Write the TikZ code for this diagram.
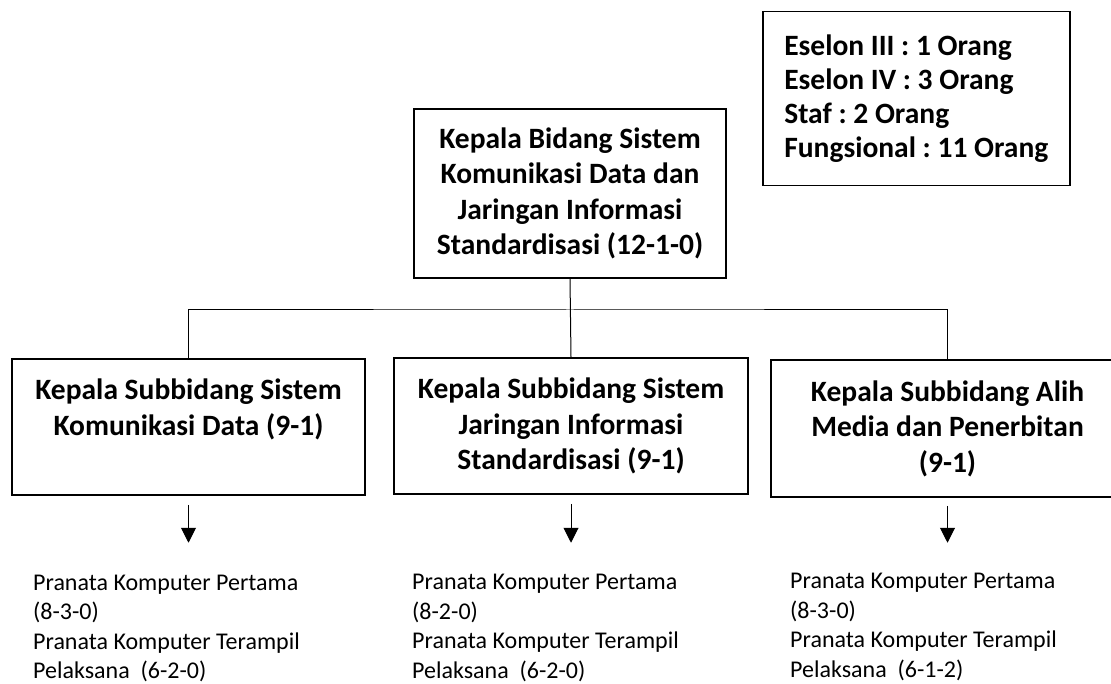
\documentclass[tikz,border=0pt]{standalone}
\usepackage{fontspec}
\setmainfont{Carlito}
\frenchspacing
\usetikzlibrary{positioning,arrows.meta}

\begin{document}
\begin{tikzpicture}[x=1pt, y=-1pt,
        block/.style={draw, rectangle, line width=1.5pt, align=center, inner sep=0pt,
            font=\bfseries\fontsize{29.5}{35.5}\selectfont},
        info/.style={draw, rectangle, line width=1.5pt, align=left, inner sep=0pt,
            minimum width=307pt, minimum height=174pt, font=\bfseries\fontsize{29.5}{34}\selectfont},
        staff/.style={align=left, inner sep=0pt, font=\fontsize{24}{29.5}\selectfont},
        link/.style={line width=1pt},
        >={Triangle[length=15pt, width=15pt]}
    ]
        \useasboundingbox (0,0) rectangle (1111,684);

        % info box
        \node [info, anchor=north west] (jumlah) at (762,11)
            {Eselon III : 1 Orang\\Eselon IV : 3 Orang\\Staf : 2 Orang\\Fungsional : 11 Orang};

        % head and subdivisions
        \node [block, minimum width=312pt, minimum height=169pt] (kabid) at (570,193.5)
            {Kepala Bidang Sistem\\Komunikasi Data dan\\Jaringan Informasi\\Standardisasi (12-1-0)};
        \node [block, minimum width=353pt, minimum height=136pt] (sub1) at (188.5,427)
            {Kepala Subbidang Sistem\\Komunikasi Data (9-1)\\\vphantom{Standardisasi (9-1)}};
        \node [block, minimum width=354pt, minimum height=136pt] (sub2) at (571,426)
            {Kepala Subbidang Sistem\\Jaringan Informasi\\Standardisasi (9-1)};
        \node [block, minimum width=353pt, minimum height=137pt] (sub3) at (947.5,428.5)
            {Kepala Subbidang Alih\\Media dan Penerbitan\\(9-1)};

        \coordinate (bus) at (570,310);
        \draw [link] (kabid.south) -- (sub2.north);
        \draw [link] (sub1.north) |- (bus) -| (sub3.north);

        % staff lists (anchor on last line)
        \node [staff, anchor=base west] (staff1) at (33,678.5)
            {Pranata Komputer Pertama\\(8-3-0)\\Pranata Komputer Terampil\\Pelaksana\ \ (6-2-0)};
        \node [staff, anchor=base west] (staff2) at (412,678)
            {Pranata Komputer Pertama\\(8-2-0)\\Pranata Komputer Terampil\\Pelaksana\ \ (6-2-0)};
        \node [staff, anchor=base west] (staff3) at (790,677)
            {Pranata Komputer Pertama\\(8-3-0)\\Pranata Komputer Terampil\\Pelaksana\ \ (6-1-2)};

        \draw [->, link] ([yshift=-9pt]sub1.south) -- ([yshift=-47pt]sub1.south);
        \draw [->, link] ([yshift=-9pt]sub2.south) -- ([yshift=-48pt]sub2.south);
        \draw [->, link] ([yshift=-8pt]sub3.south) -- ([yshift=-45pt]sub3.south);
    \end{tikzpicture}
\end{document}
